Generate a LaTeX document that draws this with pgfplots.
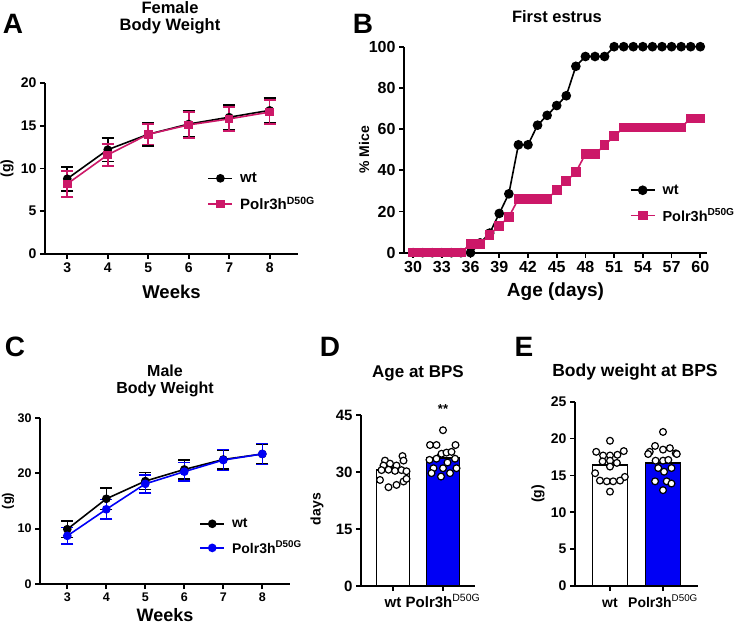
\documentclass[border=0pt]{standalone}
\usepackage{fontspec}
\setmainfont{Liberation Sans}
\usepackage{pgfplots}
\pgfplotsset{compat=1.18}
\definecolor{mpink}{RGB}{204,24,104}
\definecolor{mblue}{RGB}{0,0,245}
\newcommand{\fs}[1]{\bfseries\fontsize{#1}{#1}\selectfont}

\pgfplotsset{
  gp/.style={
    scale only axis, anchor=south west,
    axis lines=left, axis line style={-, line width=1.8pt},
    tick style={black, line width=1.8pt}, tick align=outside, major tick length=5pt,
    /pgf/number format/assume math mode=true,
    clip=false, legend cell align=left,
    legend style={draw=none, fill=none, column sep=5pt},
    legend image code/.code={\draw[mark repeat=2,mark phase=2,##1] plot coordinates {(0pt,0pt)(12pt,0pt)(24pt,0pt)};},
    error bars/error bar style={line width=1.6pt},
    error bars/error mark options={rotate=90, mark size=6pt, line width=1.6pt},
    xlabel style={anchor=center},
    ylabel style={anchor=center},
  },
  dots/.style={only marks, mark=*, mark size=3.4pt, mark options={fill=white, draw=black, line width=1.2pt}},
  barlabels/.style={xticklabel style={anchor=base, yshift=-16pt}},
}

\begin{document}
\begin{tikzpicture}
\useasboundingbox (0pt,0pt) rectangle (739pt,627pt);

% panel letters and titles
\node[font=\fs{28}] at (13pt,603pt) {A};
\node[font=\fs{28}] at (363pt,603pt) {B};
\node[font=\fs{28}] at (15pt,280pt) {C};
\node[font=\fs{28}] at (330pt,280pt) {D};
\node[font=\fs{28}] at (524pt,280pt) {E};
\node[font=\fs{16.5}, align=center] at (170pt,609pt) {Female\\[1pt]Body Weight};
\node[font=\fs{16.5}] at (557pt,610pt) {First estrus};
\node[font=\fs{16}, align=center] at (165pt,246pt) {Male\\[1pt]Body Weight};
\node[font=\fs{17}] at (418pt,254pt) {Age at BPS};
\node[font=\fs{17.5}] at (635pt,255pt) {Body weight at BPS};

% A
\begin{axis}[gp, at={(45pt,373pt)}, width=253pt, height=171pt,
  xmin=2.45, xmax=8.7, ymin=0, ymax=20,
  xtick={3,4,5,6,7,8}, ytick={0,5,10,15,20},
  tick label style={font=\fs{14}},
  xlabel={Weeks}, ylabel={(g)},
  xlabel style={at={(axis description cs:0.5,-0.22)}, font=\fs{18.5}},
  ylabel style={at={(axis description cs:-0.15,0.5)}, font=\fs{14}},
  legend style={at={(axis description cs:0.63,0.5)}, anchor=north west, font=\fs{15}, row sep=9pt}]
\addplot[black, line width=1.6pt, mark=*, mark size=3.5pt,
  error bars/.cd, y dir=both, y explicit] coordinates {
  (3,8.8) +- (0,1.4) (4,12.2) +- (0,1.4) (5,14.0) +- (0,1.35)
  (6,15.2) +- (0,1.5) (7,16.0) +- (0,1.45) (8,16.8) +- (0,1.45)};
\addplot[mpink, line width=1.6pt, mark=square*, mark size=3.5pt,
  error bars/.cd, y dir=both, y explicit] coordinates {
  (3,8.2) +- (0,1.5) (4,11.6) +- (0,1.3) (5,14.0) +- (0,1.2)
  (6,15.1) +- (0,1.5) (7,15.8) +- (0,1.4) (8,16.6) +- (0,1.4)};
\legend{wt, Polr3h\textsuperscript{D50G}}
\end{axis}

% B
\begin{axis}[gp, at={(404pt,374.3pt)}, width=303pt, height=206pt,
  xmin=29.05, xmax=60.7, ymin=0, ymax=100,
  xtick={30,33,...,60}, ytick={0,20,...,100},
  tick label style={font=\fs{16}},
  xlabel={Age (days)}, ylabel={\% Mice},
  xlabel style={at={(axis description cs:0.5,-0.19)}, font=\fs{19}},
  ylabel style={at={(axis description cs:-0.132,0.5)}, font=\fs{14}},
  legend style={at={(axis description cs:0.735,0.35)}, anchor=north west, font=\fs{14.5}, row sep=9pt}]
\addplot[black, line width=1.6pt, mark=*, mark size=4pt] coordinates {
  (30,0) (31,0) (32,0) (33,0) (34,0) (35,0) (36,0) (37,4.76) (38,9.52) (39,19.05)
  (40,28.57) (41,52.38) (42,52.38) (43,61.9) (44,66.67) (45,71.43) (46,76.19)
  (47,90.48) (48,95.24) (49,95.24) (50,95.24) (51,100) (52,100) (53,100) (54,100)
  (55,100) (56,100) (57,100) (58,100) (59,100) (60,100)};
\addplot[mpink, line width=1.6pt, mark=square*, mark size=4pt] coordinates {
  (30,0) (31,0) (32,0) (33,0) (34,0) (35,0) (36,4.35) (37,4.35) (38,8.7) (39,13.04)
  (40,17.39) (41,26.09) (42,26.09) (43,26.09) (44,26.09) (45,30.43) (46,34.78)
  (47,39.13) (48,47.83) (49,47.83) (50,52.17) (51,56.52) (52,60.87) (53,60.87)
  (54,60.87) (55,60.87) (56,60.87) (57,60.87) (58,60.87) (59,65.22) (60,65.22)};
\legend{wt, Polr3h\textsuperscript{D50G}}
\end{axis}

% C
\begin{axis}[gp, at={(40pt,43pt)}, width=250pt, height=166pt,
  xmin=2.3, xmax=8.71, ymin=0, ymax=30,
  xtick={3,4,5,6,7,8}, ytick={0,10,20,30},
  tick label style={font=\fs{12.5}},
  xlabel={Weeks}, ylabel={(g)},
  xlabel style={at={(axis description cs:0.5,-0.19)}, font=\fs{18}},
  ylabel style={at={(axis description cs:-0.128,0.5)}, font=\fs{13}},
  legend style={at={(axis description cs:0.625,0.42)}, anchor=north west, font=\fs{14}, row sep=8pt}]
\addplot[black, line width=1.6pt, mark=*, mark size=3.5pt,
  error bars/.cd, y dir=both, y explicit] coordinates {
  (3,9.9) +- (0,1.5) (4,15.4) +- (0,1.9) (5,18.6) +- (0,1.55)
  (6,20.7) +- (0,1.7) (7,22.5) +- (0,1.7) (8,23.5) +- (0,1.8)};
\addplot[mblue, line width=1.6pt, mark=*, mark size=3.5pt,
  error bars/.cd, y dir=both, y explicit] coordinates {
  (3,8.7) +- (0,1.5) (4,13.5) +- (0,1.75) (5,18.1) +- (0,1.6)
  (6,20.3) +- (0,1.65) (7,22.4) +- (0,1.9) (8,23.5) +- (0,1.9)};
\legend{wt, Polr3h\textsuperscript{D50G}}
\end{axis}

% D
\begin{axis}[gp, barlabels, at={(361pt,41pt)}, width=114pt, height=171pt,
  xmin=-0.64, xmax=1.64, ymin=0, ymax=45,
  xtick={0,1}, ytick={0,15,30,45},
  xticklabels={wt, Polr3h\textsuperscript{\mdseries D50G}},
  tick label style={font=\fs{15}},
  ylabel={days},
  ylabel style={at={(axis description cs:-0.386,0.45)}, font=\fs{14}}]
\addplot[ybar, bar width=33pt, bar shift=0pt, fill=white, draw=black, line width=1.6pt,
  error bars/.cd, y dir=plus, y explicit] coordinates {(0,30.6) +- (0,0.6)};
\addplot[ybar, bar width=33pt, bar shift=0pt, fill=mblue, draw=black, line width=1.6pt,
  error bars/.cd, y dir=plus, y explicit] coordinates {(1,33.7) +- (0,0.8)};
\addplot[dots] coordinates {
  (0.19,34.2) (-0.16,33.0) (0.21,33.0) (-0.19,31.7) (-0.06,32.2) (0.07,31.7)
  (-0.23,30.5) (-0.09,30.6) (0.04,30.3) (0.17,30.5) (0.27,30.2)
  (-0.26,27.9) (-0.09,26.0) (0.07,26.6) (0.21,27.5) (0.27,28.2)};
\addplot[dots] coordinates {
  (1.0,41.0) (0.74,37.1) (0.87,37.1) (1.25,37.1)
  (0.97,34.8) (1.07,35.1) (1.17,35.3)
  (0.73,33.2) (0.87,33.5) (1.24,33.5) (1.09,32.5)
  (0.81,31.0) (1.0,31.0) (1.27,31.0)
  (0.77,29.7) (1.14,29.7) (0.96,28.8)};
\node[font=\fs{13}] at (axis cs:1,46.5) {**};
\end{axis}

% E
\begin{axis}[gp, barlabels, at={(575pt,41pt)}, width=123pt, height=184.3pt,
  xmin=-0.66, xmax=1.66, ymin=0, ymax=25,
  xtick={0,1}, ytick={0,5,...,25},
  xticklabels={wt, Polr3h\textsuperscript{\mdseries D50G}},
  tick label style={font=\fs{14}},
  ylabel={(g)},
  ylabel style={at={(axis description cs:-0.30,0.5)}, font=\fs{14}}]
\addplot[ybar, bar width=35pt, bar shift=0pt, fill=white, draw=black, line width=1.6pt] coordinates {(0,16.4)};
\addplot[ybar, bar width=35pt, bar shift=0pt, fill=mblue, draw=black, line width=1.6pt] coordinates {(1,16.7)};
\addplot[dots] coordinates {
  (0,19.7) (-0.26,18.2) (0.26,18.3) (-0.13,17.7) (0,17.7) (0.14,17.8)
  (-0.14,16.9) (0,17.0) (0.13,16.7) (0,16.2) (-0.28,15.3) (0.28,14.8)
  (-0.19,14.3) (-0.06,14.2) (0.06,14.2) (0.19,14.3) (0,12.8)};
\addplot[dots] coordinates {
  (1,20.9) (0.75,18.2) (0.85,19.0) (1,18.5) (1.13,18.7) (1.24,18.0)
  (0.72,17.9) (1.26,17.9)
  (0.86,17.0) (1,17.0) (1.1,17.1) (0.91,16.0) (1.02,15.5) (1.16,16.0)
  (0.85,14.2) (1.07,14.2) (1.16,13.9) (1,13.0)};
\end{axis}
\end{tikzpicture}
\end{document}
